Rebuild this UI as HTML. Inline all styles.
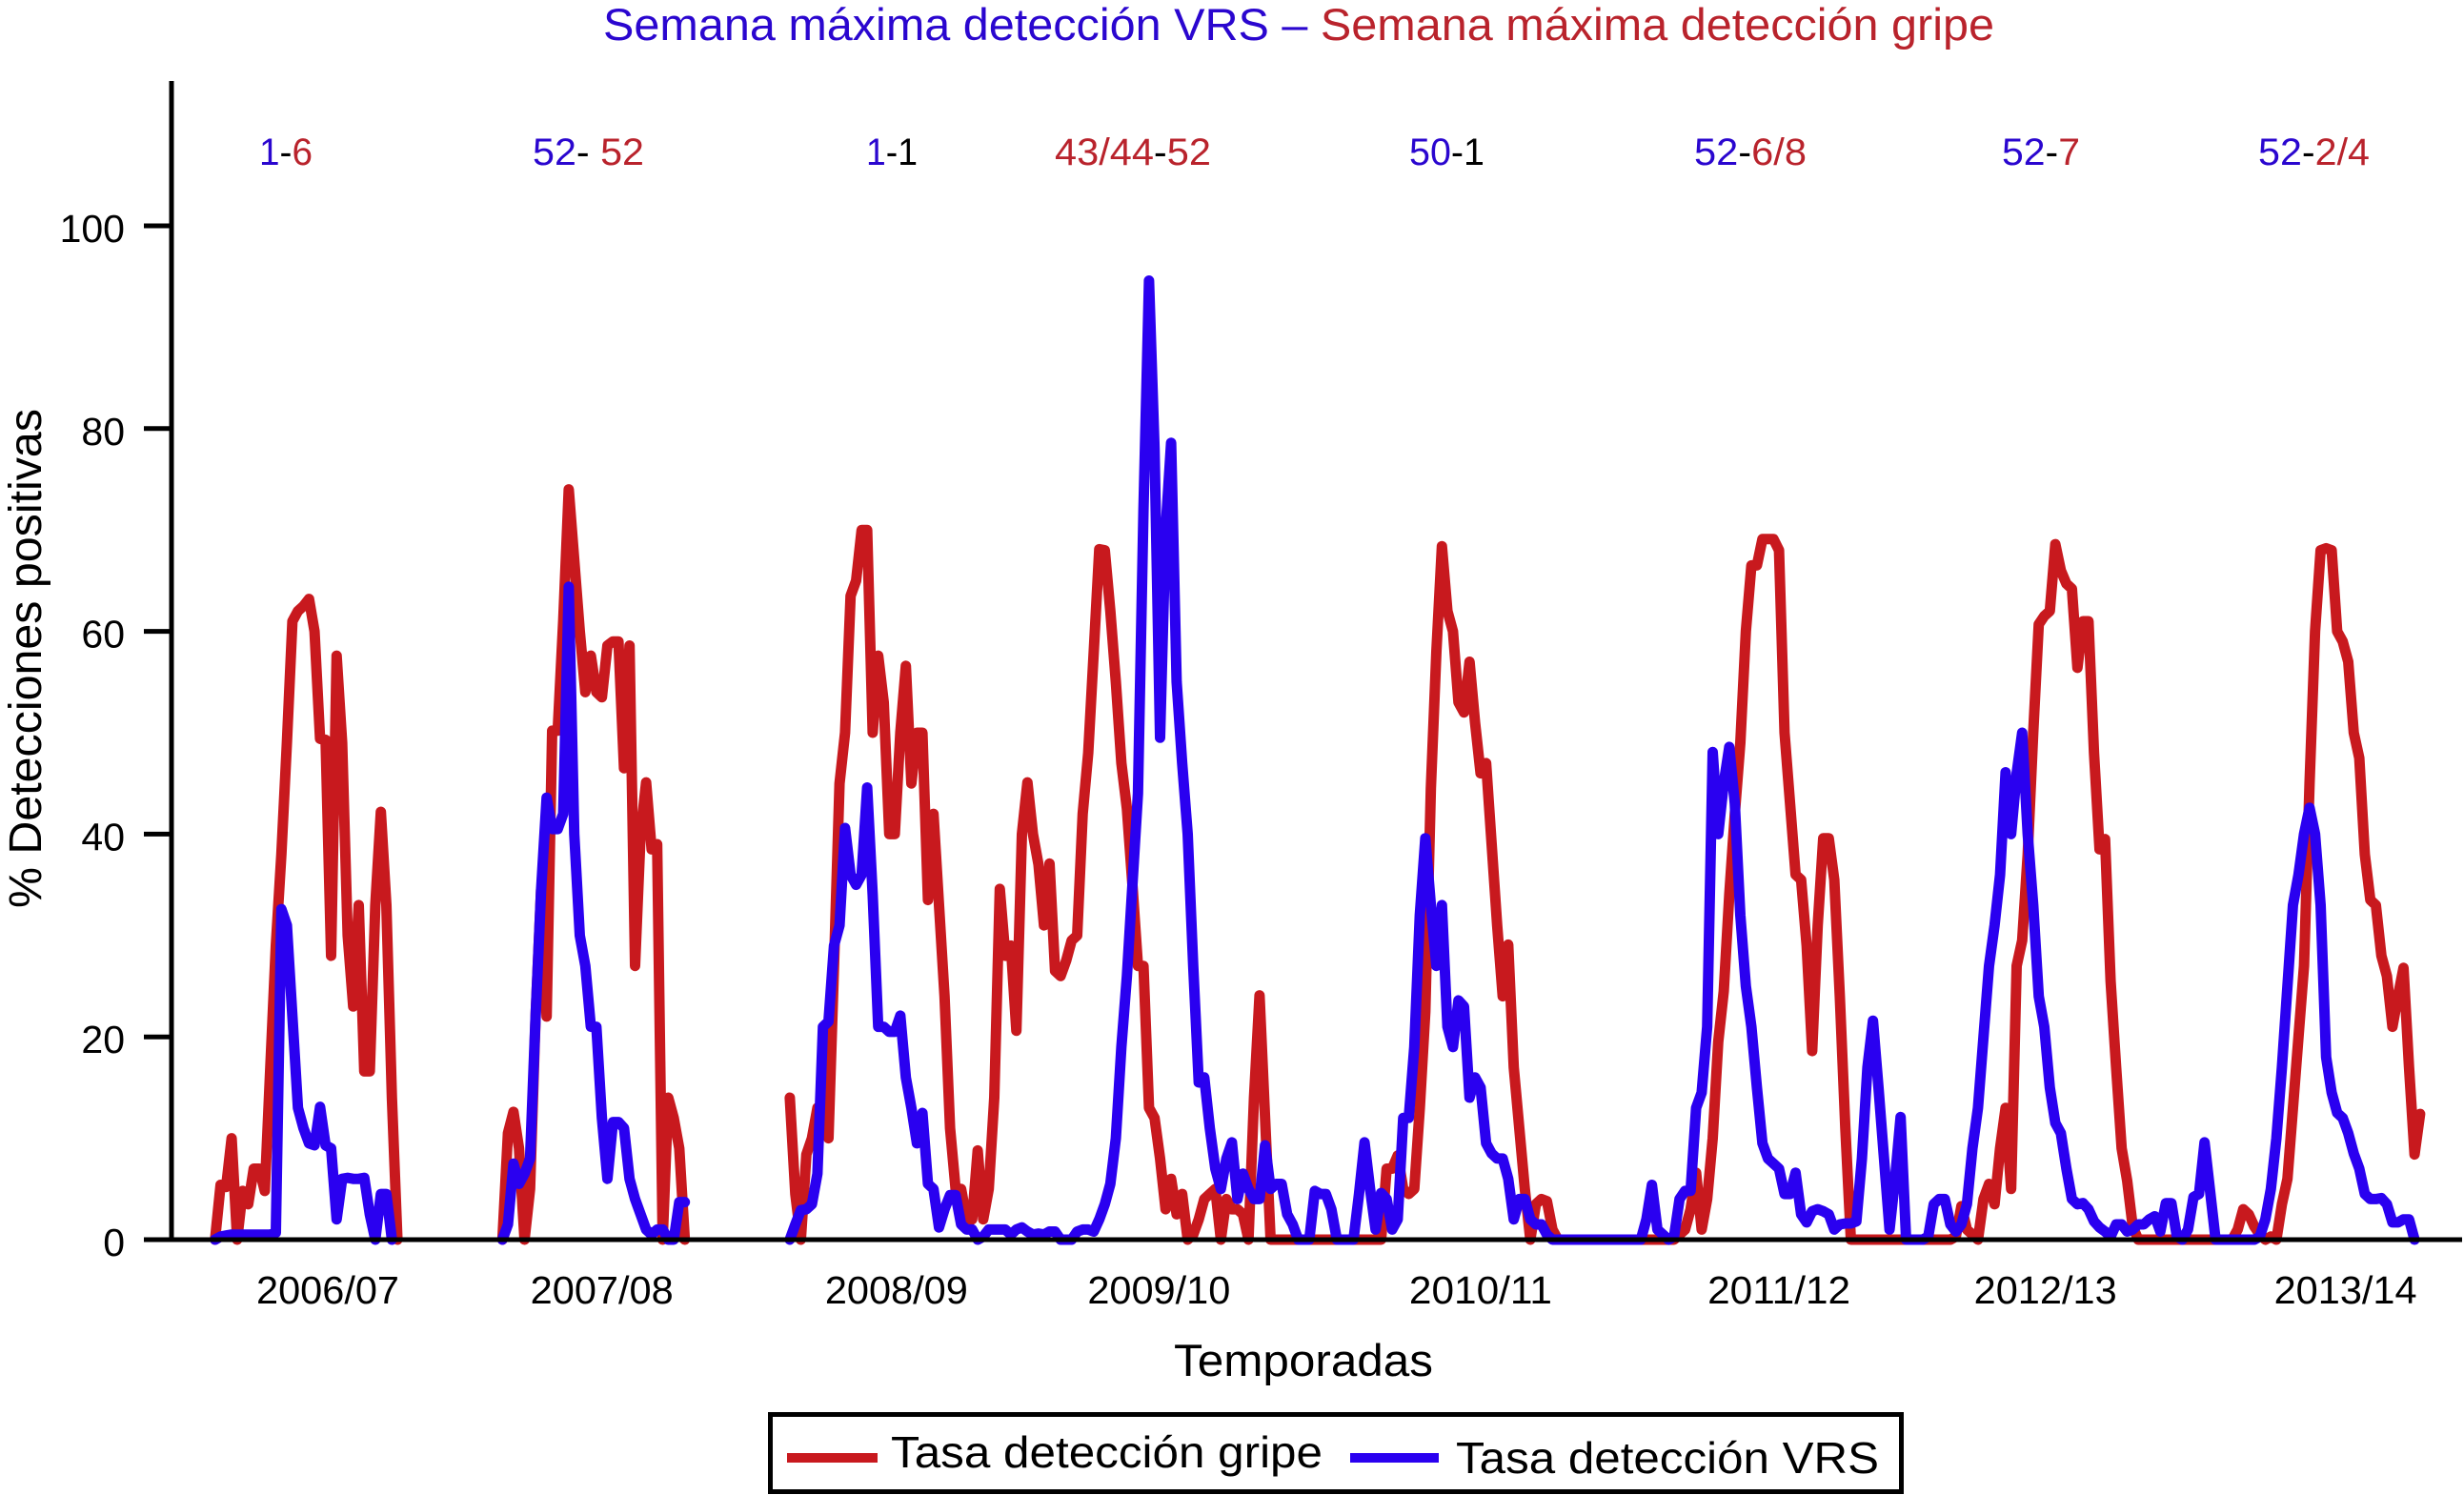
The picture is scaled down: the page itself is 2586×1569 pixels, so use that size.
<!DOCTYPE html>
<html lang="es">
<head>
<meta charset="utf-8">
<title>Semana máxima detección VRS – Semana máxima detección gripe</title>
<style>
html,body{margin:0;padding:0;background:#fff;width:2586px;height:1569px;overflow:hidden}
svg{display:block}
text{font-family:"Liberation Sans",Arial,sans-serif;fill:#000}
</style>
</head>
<body>
<svg id="chart" xmlns="http://www.w3.org/2000/svg" width="2586" height="1569" viewBox="0 0 2586 1569">
  <rect width="2586" height="1569" fill="#fff"/>
  <text x="633" y="42" font-size="47" textLength="1460" lengthAdjust="spacingAndGlyphs"><tspan style="fill:#2a06cf">Semana máxima detección VRS</tspan><tspan style="fill:#2a06cf"> – </tspan><tspan style="fill:#b9232c">Semana máxima detección gripe</tspan></text>

  <g id="series-layer"></g>
  <g id="axis-layer"></g>

  <text x="272" y="173" font-size="40" textLength="56" lengthAdjust="spacingAndGlyphs"><tspan style="fill:#2a06cf">1</tspan><tspan>-</tspan><tspan style="fill:#b9232c">6</tspan></text>
  <text x="559" y="173" font-size="40" textLength="117" lengthAdjust="spacingAndGlyphs"><tspan style="fill:#2a06cf">52</tspan><tspan>- </tspan><tspan style="fill:#b9232c">52</tspan></text>
  <text x="909" y="173" font-size="40" textLength="54" lengthAdjust="spacingAndGlyphs"><tspan style="fill:#2a06cf">1</tspan><tspan>-1</tspan></text>
  <text x="1107" y="173" font-size="40" textLength="164" lengthAdjust="spacingAndGlyphs"><tspan style="fill:#b9232c">43/44</tspan><tspan>-</tspan><tspan style="fill:#b9232c">52</tspan></text>
  <text x="1479" y="173" font-size="40" textLength="79" lengthAdjust="spacingAndGlyphs"><tspan style="fill:#2a06cf">50</tspan><tspan>-1</tspan></text>
  <text x="1778" y="173" font-size="40" textLength="118" lengthAdjust="spacingAndGlyphs"><tspan style="fill:#2a06cf">52</tspan><tspan>-</tspan><tspan style="fill:#b9232c">6/8</tspan></text>
  <text x="2101" y="173" font-size="40" textLength="82" lengthAdjust="spacingAndGlyphs"><tspan style="fill:#2a06cf">52</tspan><tspan>-</tspan><tspan style="fill:#b9232c">7</tspan></text>
  <text x="2370" y="173" font-size="40" textLength="117" lengthAdjust="spacingAndGlyphs"><tspan style="fill:#2a06cf">52</tspan><tspan>-</tspan><tspan style="fill:#b9232c">2/4</tspan></text>

  <text transform="translate(43 953) rotate(-90)" font-size="48" textLength="524" lengthAdjust="spacingAndGlyphs">% Detecciones positivas</text>
  <text x="1232" y="1444" font-size="47" textLength="272" lengthAdjust="spacingAndGlyphs">Temporadas</text>

  <g>
    <rect x="808.5" y="1484.5" width="1187" height="81" fill="#fff" stroke="#000" stroke-width="5"/>
    <line x1="826" y1="1530" x2="921" y2="1530" stroke="#c8191e" stroke-width="10"/>
    <text x="935" y="1540" font-size="46" textLength="453" lengthAdjust="spacingAndGlyphs">Tasa detección gripe</text>
    <line x1="1417" y1="1530" x2="1510" y2="1530" stroke="#2a00f0" stroke-width="10"/>
    <text x="1528" y="1546" font-size="46" textLength="444" lengthAdjust="spacingAndGlyphs">Tasa detección VRS</text>
  </g>
</svg>
<script>
const seasonLabels = ["2006/07","2007/08","2008/09","2009/10","2010/11","2011/12","2012/13","2013/14"];
const seasonLabelWeeks = [20.4,70,123.3,170.8,229,283,331.2,385.5];
const yTicks = [0,20,40,60,80,100];

const segmentStartWeeks = [0,52,104];

const fluSegment1 = [0,5.4,5.2,10,0,4.8,3.5,7,7,4.8,17,29,38,49,61,62,62.5,63.2,60,49.4,49.3,28,57.6,49,30,23,33,16.6,16.6,33,42.2,33,14,0];
const fluSegment2 = [0,10.5,12.6,9,0,5,22,34.5,22,50.2,50.2,61,74,67,60,54,57.6,54,53.5,58.6,59,59,46.5,58.6,27,40,45.1,38.5,39,0,14,12,9,0];
const fluSegment3 = [
14,4.5,0,8.4,10,13,12,10,27,45,
50,63.5,65,70,70,50,57.6,53,40,40,
50,56.6,45,50,50,33.5,42,33,24,11,
5,5,2,2,8.8,2,5,14,34.6,28,
29,20.6,40,45.1,40,37,31,37.1,26.5,26,
27.5,29.5,30,42,48,58,68.1,68,62,55,
47,42.5,35,27,27,13,12,8,3,6,
2.5,4.5,0,0.5,2,4,4.5,5,0,4,
3,3,2.5,0,14,24.1,12,0,0,0,
0,0,0,0,0,0,0,0,0,0,
0,0,0,0,0,0,0,0,7,7,
8.3,5,4.5,5,13,22.5,44.5,58,68.4,62,
60,53,52,57,51,46,47,39,31,24,
29.1,17,11,5,0,3.5,4,3.8,1,0,
0,0,0,0,0,0,0,0,0,0,
0,0,0,0,0,0,0,0,0,0,
0,0.5,1,3,6.6,1,4,10,19.5,24.5,
34,42,49,60,66.5,66.5,69.1,69.1,69.1,68,
50,43,36,35.5,29,18.6,31,39.6,39.6,35.5,
24,11,0,0,0,0,0,0,0,0,
0,0,0,0,0,0,0,0,0,0,
0,0.3,3.3,1,0.5,0,4,5.5,3.5,9,
13,5,27,29.5,38,50,60.7,61.5,62,68.6,
66,64.7,64.2,56.4,61,61,48,38.5,39.5,25.5,
17,9,5.8,1.3,0,0,0,0,0,0,
0,0,0,0,0,0,0,0,0,0,
0,0,1,3,2.5,1.3,0.5,0,0.3,0,
3.5,6,13,20,27,45,60,68,68.2,68,
60,59,57,50,47.5,38,33.5,33,28,26,
21,24,26.8,17,8.4,12.4];

const vrsSegment1 = [0,0.3,0.4,0.5,0.5,0.5,0.5,0.5,0.5,0.5,0.5,0.7,32.6,31,22,13,11,9.5,9.3,13.1,9.3,9,2,6,6.1,6,6,6.1,2.5,0,4.5,4.5,0];
const vrsSegment2 = [0,1.5,7.5,5.5,6.5,8,22,34.5,43.6,40.5,40.5,42,64.4,40,30,27,21,21,12,6,11.6,11.6,11,6,4,2.5,1,0.5,1,1,0,0,3.7,3.7];
const vrsSegment3 = [
0,1.5,2.9,3,3.5,6.5,21,21.5,29,31,
40.6,36,35,36,44.6,34,21,21,20.5,20.5,
22.1,16,13,9.5,12.5,5.5,5,1.2,3,4.4,
4.4,1.5,1,1,0,0.3,1,1,1,1,
0.5,1,1.2,0.8,0.5,0.6,0.5,0.8,0.8,0,
0,0,0.8,1,1,0.8,2,3.5,5.5,10,
19,26,35,44,72,94.6,78,49.5,70,78.6,
55,47,40,27,15.5,16,11,7,5,8,
9.6,4,6.5,5,4,4,9.3,5,5.5,5.5,
2.5,1.5,0,0,0,4.8,4.5,4.5,3,0,
0,0,0,4.5,9.6,5,1,4.6,4,1,
2,12,12,19,32,39.6,33,27,33,21,
19,23.6,23,14,16,15,9.5,8.5,8,8,
6,2,4,4,2,1.5,1.5,0.5,0,0,
0,0,0,0,0,0,0,0,0,0,
0,0,0,0,0,2,5.4,1,0.5,0,
0.3,4,4.8,4.8,13,14.5,21,48.1,40,45,
48.6,43,32,25,21,15,9.5,8,7.5,7,
4.5,4.5,6.6,2.5,1.7,2.8,3,2.8,2.5,1,
1.5,1.6,1.6,1.8,8,17,21.6,15,8,1,
6,12.1,0,0,0,0,0.3,3.5,4,4,
1.5,0.8,1.5,3.5,9,13,20,27,31,36,
46.1,40,46,50,40,33,24,21,15,11.5,
10.5,7,4,3.5,3.6,3,1.8,1.2,0.8,0.3,
1.5,1.5,0.8,1,1.5,1.5,2,2.3,0.8,3.6,
3.6,0.3,0,1,4.2,4.5,9.6,4.8,0,0,
0,0,0,0,0,0,0.3,2,5,10,
17,25,33,36,40,42.6,40,33,18,14.5,
12.5,12,10.5,8.5,7,4.5,4,4,4.1,3.5,
1.7,1.7,2,2,0];

const SVG_NS = "http://www.w3.org/2000/svg";
const xScale = function (week) { return 225.7 + 5.8 * week; };
const yScale = function (value) { return 1301 - 10.64 * value; };

const seriesLayer = document.getElementById("series-layer");
const axisLayer = document.getElementById("axis-layer");

function drawSegment(values, startWeek, color, label) {
  const points = values.map(function (v, i) {
    return xScale(startWeek + i).toFixed(1) + "," + yScale(v).toFixed(1);
  }).join(" ");
  const line = document.createElementNS(SVG_NS, "polyline");
  line.setAttribute("points", points);
  line.setAttribute("fill", "none");
  line.setAttribute("stroke", color);
  line.setAttribute("stroke-width", "11");
  line.setAttribute("stroke-linejoin", "round");
  line.setAttribute("stroke-linecap", "round");
  
  
  seriesLayer.appendChild(line);
}

[fluSegment1, fluSegment2, fluSegment3].forEach(function (values, i) {
  drawSegment(values, segmentStartWeeks[i], "#c8191e", "flu-line-segment");
});
[vrsSegment1, vrsSegment2, vrsSegment3].forEach(function (values, i) {
  drawSegment(values, segmentStartWeeks[i], "#2a00f0", "vrs-line-segment");
});

function axisLine(x1, y1, x2, y2, width, label) {
  const l = document.createElementNS(SVG_NS, "line");
  l.setAttribute("x1", x1);
  l.setAttribute("y1", y1);
  l.setAttribute("x2", x2);
  l.setAttribute("y2", y2);
  l.setAttribute("stroke", "#000");
  l.setAttribute("stroke-width", width);
  
  
  axisLayer.appendChild(l);
}

axisLine(180, 85, 180, 1303, 5, "y-axis-line");
axisLine(178, 1301, 2584, 1301, 5, "x-axis-line");

yTicks.forEach(function (tick) {
  const y = yScale(tick);
  axisLine(151, y, 180, y, 5, "y-axis-tick");
  const t = document.createElementNS(SVG_NS, "text");
  t.setAttribute("x", 131);
  t.setAttribute("y", y + 17);
  t.setAttribute("font-size", "41");
  t.setAttribute("text-anchor", "end");
  
  
  t.textContent = String(tick);
  axisLayer.appendChild(t);
});

seasonLabels.forEach(function (label, i) {
  const t = document.createElementNS(SVG_NS, "text");
  t.setAttribute("x", xScale(seasonLabelWeeks[i]) - 75);
  t.setAttribute("y", 1368);
  t.setAttribute("font-size", "41");
  t.setAttribute("textLength", "150");
  t.setAttribute("lengthAdjust", "spacingAndGlyphs");
  
  
  t.textContent = label;
  axisLayer.appendChild(t);
});
</script>
</body>
</html>
